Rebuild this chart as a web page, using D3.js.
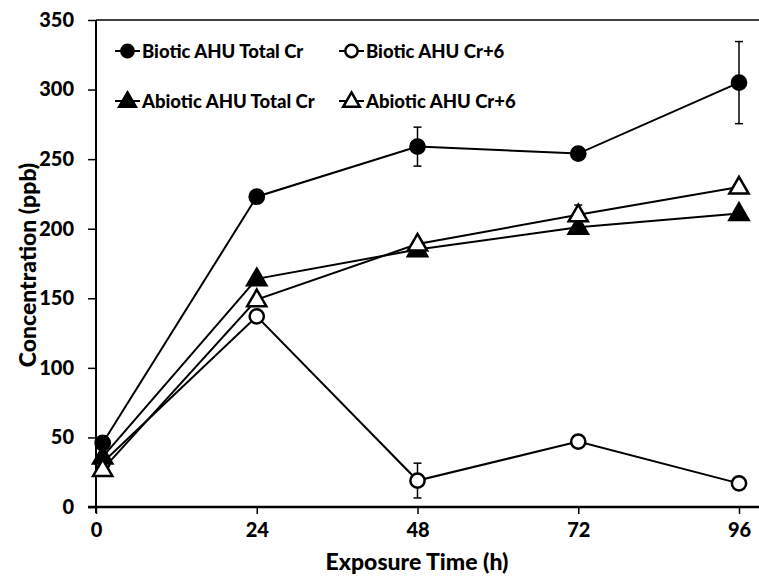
<!DOCTYPE html>
<html>
<head>
<meta charset="utf-8">
<script src="https://cdn.jsdelivr.net/npm/d3@7"></script>
<style>
  body { margin: 0; background: #fff; }
  text { font-family: Lato, "Open Sans", sans-serif; font-weight: 900; fill: #000; }
</style>
</head>
<body>
<div class="chart"></div>
<script>
const width = 759;
const height = 576;

const times = [1, 24, 48, 72, 96];
const xTicks = [0, 24, 48, 72, 96];
const yTicks = [0, 50, 100, 150, 200, 250, 300, 350];

const bioticTotal = [46, 223, 259, 254, 305];
const bioticTotalErr = [0, 0, 14, 0, 29.5];
const bioticCr6 = [32, 137, 19, 47, 17];
const bioticCr6Err = [0, 0, 12.5, 0, 0];
const abioticTotal = [36, 164, 185, 201, 211];
const abioticTotalErr = [0, 0, 0, 0, 0];
const abioticCr6 = [27, 149, 189, 210, 230];
const abioticCr6Err = [0, 0, 0, 7, 0];

const series = [
  { name: "Biotic AHU Total Cr", values: bioticTotal, err: bioticTotalErr, shape: "circle", fill: "#000" },
  { name: "Biotic AHU Cr+6", values: bioticCr6, err: bioticCr6Err, shape: "circle", fill: "#fff" },
  { name: "Abiotic AHU Total Cr", values: abioticTotal, err: abioticTotalErr, shape: "triangle", fill: "#000" },
  { name: "Abiotic AHU Cr+6", values: abioticCr6, err: abioticCr6Err, shape: "triangle", fill: "#fff" }
];

const svg = d3
  .select(".chart")
  .append("svg")
  .attr("width", width)
  .attr("height", height);

const x = d3.scaleLinear().domain([0, 96]).range([96, 739]);
const y = d3.scaleLinear().domain([0, 350]).range([507, 20]);

// frame top line
svg.append("line")
  .attr("x1", x(0)).attr("x2", width)
  .attr("y1", y(350)).attr("y2", y(350))
  .attr("stroke", "#000").attr("stroke-width", 1.5);

// axes
const yAxis = d3.axisLeft(y).tickValues(yTicks).tickSize(8).tickPadding(14);
const gy = svg.append("g").attr("transform", `translate(${x(0)},0)`).call(yAxis);
gy.select(".domain").attr("stroke-width", 2).attr("d", `M0,${y(0) + 6}V${y(350)}`);
gy.selectAll(".tick line").attr("stroke-width", 1.5);
gy.selectAll("text").style("font-size", "20px").attr("font-family", null);

const xAxis = d3.axisBottom(x).tickValues(xTicks).tickSize(7).tickPadding(9);
const gx = svg.append("g").attr("transform", `translate(0,${y(0)})`).call(xAxis);
gx.select(".domain").attr("stroke-width", 2.5).attr("d", `M${x(0) - 8},0H${width}`);
gx.selectAll(".tick line").attr("stroke-width", 1.5);
gx.selectAll("text").style("font-size", "20px").attr("font-family", null);

svg.append("text")
  .attr("x", 417).attr("y", 570)
  .attr("text-anchor", "middle")
  .style("font-size", "23px")
  .text("Exposure Time (h)");

svg.append("text")
  .attr("transform", "translate(36,265) rotate(-90)")
  .attr("text-anchor", "middle")
  .style("font-size", "23px")
  .text("Concentration (ppb)");

const circle = d3.symbol().type(d3.symbolCircle).size(160);
const tri = d3.symbol().type(d3.symbolTriangle).size(160);
const circleSmall = d3.symbol().type(d3.symbolCircle).size(120);
const triSmall = d3.symbol().type(d3.symbolTriangle).size(120);

function drawMarker(g, s, cx, cy, small) {
  const c = small ? circleSmall : circle;
  const t = small ? triSmall : tri;
  g.append("path")
    .attr("d", s.shape === "circle" ? c() : t())
    .attr("transform", `translate(${cx},${cy + (s.shape === "triangle" ? 1 : 0)})`)
    .attr("fill", s.fill)
    .attr("stroke", "#000")
    .attr("stroke-width", 2.5);
}

const line = d3.line().x((d, i) => x(times[i])).y(d => y(d));

// error bars
series.forEach(s => {
  const g = svg.append("g");
  s.values.forEach((v, i) => {
    if (!s.err[i]) return;
    const cx = x(times[i]);
    g.append("line").attr("x1", cx).attr("x2", cx)
      .attr("y1", y(v + s.err[i])).attr("y2", y(v - s.err[i]))
      .attr("stroke", "#000").attr("stroke-width", 1.5);
    [v + s.err[i], v - s.err[i]].forEach(e => {
      g.append("line").attr("x1", cx - 4).attr("x2", cx + 4)
        .attr("y1", y(e)).attr("y2", y(e))
        .attr("stroke", "#000").attr("stroke-width", 1.5);
    });
  });
});

series.forEach(s => {
  svg.append("path")
    .attr("d", line(s.values))
    .attr("fill", "none")
    .attr("stroke", "#000")
    .attr("stroke-width", 2);
});

series.forEach(s => {
  const g = svg.append("g");
  s.values.forEach((v, i) => drawMarker(g, s, x(times[i]), y(v), false));
});

// legend
const legendPos = [[115, 51], [339, 51], [115, 101], [339, 101]];
series.forEach((s, i) => {
  const [lx, ly] = legendPos[i];
  const g = svg.append("g");
  g.append("line").attr("x1", lx).attr("x2", lx + 25)
    .attr("y1", ly).attr("y2", ly)
    .attr("stroke", "#000").attr("stroke-width", 2);
  drawMarker(g, s, lx + 12.5, ly, true);
  g.append("text")
    .attr("x", lx + 27).attr("y", ly + 7)
    .style("font-size", "18.5px")
    .text(s.name);
});
</script>
</body>
</html>
